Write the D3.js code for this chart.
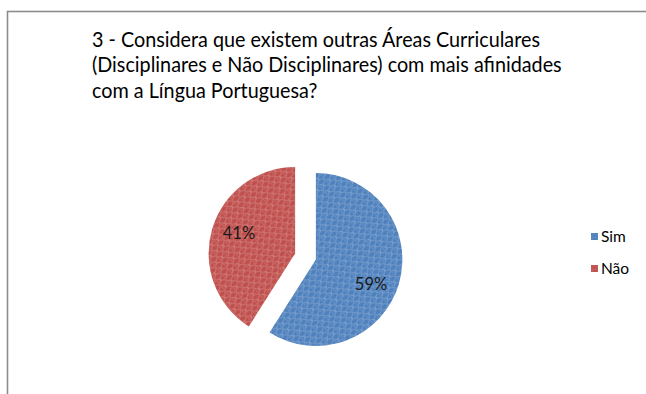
<!DOCTYPE html>
<html>
<head>
<meta charset="utf-8">
<script src="https://cdn.jsdelivr.net/npm/d3@7"></script>
<style>
  html, body { margin: 0; padding: 0; background: #fff; }
  svg { display: block; }
</style>
</head>
<body>
<svg id="chart" width="646" height="394"></svg>
<script>
// Survey answers (percent of respondents)
const categories = ["Sim", "Não"];
const values = [59, 41];
const colors = ["#4F81BD", "#C0504D"];
const titleLines = [
  "3 - Considera que existem outras Áreas Curriculares",
  "(Disciplinares e Não Disciplinares) com mais afinidades",
  "com a Língua Portuguesa?"
];

const svg = d3.select("#chart");
const font = "Lato, 'Open Sans', sans-serif";

// Woven texture used by the slices and legend keys
const defs = svg.append("defs");
colors.forEach((c, i) => {
  const p = defs.append("pattern")
    .attr("id", "weave" + i)
    .attr("patternUnits", "userSpaceOnUse")
    .attr("width", 8).attr("height", 8)
    .attr("patternTransform", "rotate(-40)");
  p.append("rect").attr("width", 8).attr("height", 8).attr("fill", c);
  p.append("path")
    .attr("d", "M0,2 Q2,-1 4,2 T8,2 M0,6 Q2,9 4,6 T8,6")
    .attr("fill", "none")
    .attr("stroke", "#fff")
    .attr("stroke-opacity", 0.32)
    .attr("stroke-width", 0.8);
  p.append("path")
    .attr("d", "M2,2 Q4,4 2,6 M6,2 Q4,4 6,6")
    .attr("fill", "none")
    .attr("stroke", "#fff")
    .attr("stroke-opacity", 0.22)
    .attr("stroke-width", 0.7);
});

// Chart-area frame
svg.append("rect")
  .attr("x", 7.5).attr("y", 11.5)
  .attr("width", 700).attr("height", 400)
  .attr("fill", "none")
  .attr("stroke", "#8c8c8c")
  .attr("stroke-width", 1.6);

// Title, three lines, fitted to the chart's title width
const title = svg.append("g");
const titleSize = 20.5;
const baseY = 47, lineH = 25.3;
const t0 = title.append("text")
  .attr("x", 92).attr("y", baseY)
  .attr("font-family", font).attr("font-size", titleSize)
  .text(titleLines[0]);
const natural = t0.node().getComputedTextLength();
const scaleX = 448 / natural;
t0.remove();
titleLines.forEach((line, i) => {
  const t = title.append("text")
    .attr("x", 92).attr("y", baseY + i * lineH)
    .attr("font-family", font).attr("font-size", titleSize)
    .attr("fill", "#000")
    .text(line);
  const len = t.node().getComputedTextLength();
  t.attr("textLength", len * scaleX).attr("lengthAdjust", "spacingAndGlyphs");
});

// Exploded pie
const cx = 305.5, cy = 256.5, r = 86.5, explode = 10.8;
const pie = d3.pie().sort(null).value(d => d);
const arcs = pie(values);
const arc = d3.arc().innerRadius(0).outerRadius(r);
const labelArc = d3.arc().innerRadius(r * 0.7).outerRadius(r * 0.7);
// best-fit placement nudges for the value labels
const labelNudge = [[-3, 8], [2, -3.5]];

const g = svg.append("g").attr("transform", `translate(${cx},${cy})`);
const slices = g.selectAll("g.slice").data(arcs).enter().append("g")
  .attr("class", "slice")
  .attr("transform", d => {
    const a = (d.startAngle + d.endAngle) / 2;
    return `translate(${Math.sin(a) * explode},${-Math.cos(a) * explode})`;
  });
slices.append("path")
  .attr("d", arc)
  .attr("fill", (d, i) => `url(#weave${i})`);
slices.append("text")
  .attr("transform", (d, i) => {
    const [x, y] = labelArc.centroid(d);
    return `translate(${x + labelNudge[i][0]},${y + labelNudge[i][1]})`;
  })
  .attr("text-anchor", "middle")
  .attr("dy", "0.35em")
  .attr("font-family", font)
  .attr("font-size", 16.5)
  .attr("fill", "#1a1a1a")
  .text(d => d.data + "%");

// Legend
const legend = svg.append("g").attr("transform", "translate(591,233)");
categories.forEach((c, i) => {
  const row = legend.append("g").attr("transform", `translate(0,${i * 32})`);
  row.append("rect")
    .attr("width", 7).attr("height", 7)
    .attr("fill", `url(#weave${i})`);
  row.append("rect")
    .attr("width", 7).attr("height", 7)
    .attr("fill", colors[i]).attr("fill-opacity", 0.55);
  row.append("text")
    .attr("x", 10).attr("y", 9)
    .attr("font-family", font)
    .attr("font-size", 15.5)
    .attr("fill", "#000")
    .text(c);
});
</script>
</body>
</html>
